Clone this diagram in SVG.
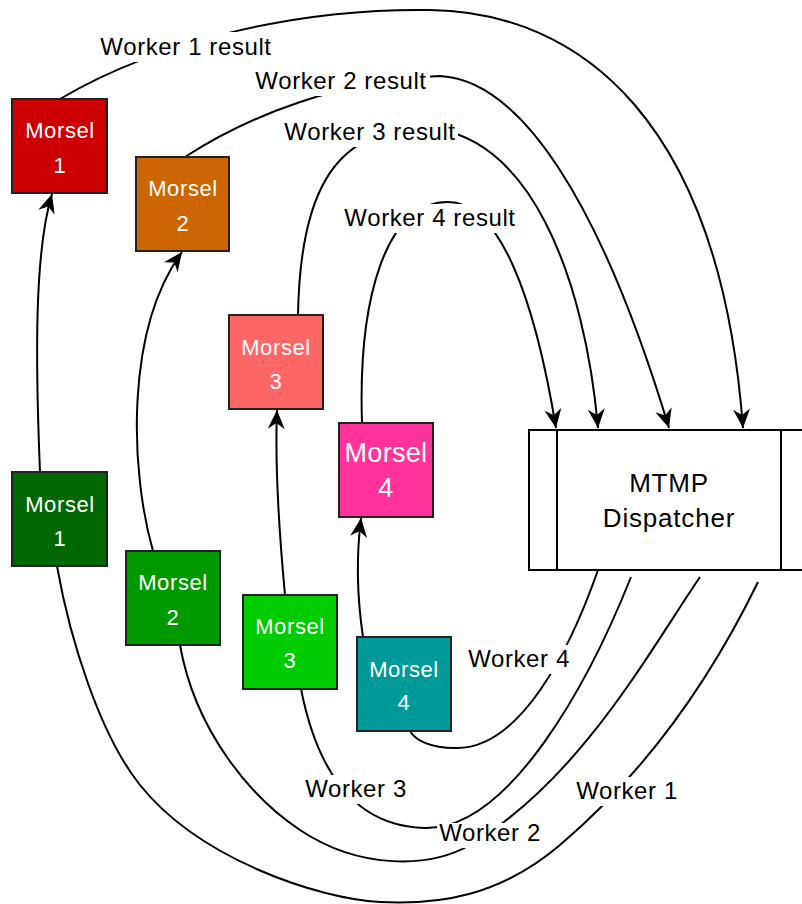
<svg xmlns="http://www.w3.org/2000/svg" width="802" height="904" viewBox="0 0 802 904">
  <style>
    .edge { fill: none; stroke: #000; stroke-width: 2; }
    .arrow { marker-end: url(#head); }
    .lbl-bg { fill: #fff; }
    .lbl { font-family: "Liberation Sans", Arial, Helvetica, sans-serif; font-size: 24px; letter-spacing: 0.6px; fill: #000; text-anchor: middle; }
    .box { stroke: #222; stroke-width: 2; }
    .mtxt { font-family: "Liberation Sans", Arial, Helvetica, sans-serif; font-size: 22px; letter-spacing: 0.6px; fill: #fff; text-anchor: middle; }
    .big { font-size: 27px; letter-spacing: 0.3px; }
    .disp { fill: #fff; stroke: #000; stroke-width: 2; }
    .dtxt { font-family: "Liberation Sans", Arial, Helvetica, sans-serif; font-size: 26px; letter-spacing: 0.8px; fill: #000; text-anchor: middle; }
  </style>
  <defs>
    <!-- notched classic arrowhead, tip at the path end -->
    <marker id="head" markerUnits="userSpaceOnUse" viewBox="0 -10 20 20" markerWidth="20" markerHeight="20" refX="19" refY="0" orient="auto" overflow="visible">
      <path d="M 0 -8.5 L 19 0 L 0 8.5 L 6 0 Z" fill="#000"/>
    </marker>
  </defs>

  <g id="connectors">
    <!-- results: morsel tops to dispatcher -->
    <path class="edge arrow" d="M 60 99 C 160 40, 300 8, 430 10 C 580 12, 720 120, 743 428"/>
    <path class="edge arrow" d="M 185 157 C 250 115, 340 80, 440 76 C 520 80, 600 200, 669 428"/>
    <path class="edge arrow" d="M 298 315 C 300 200, 330 130, 420 128 C 530 128, 585 280, 598 428"/>
    <path class="edge arrow" d="M 362 423 C 358 300, 385 202, 448 202 C 500 202, 535 300, 556 428"/>

    <!-- hand-off: lower morsels to upper morsels -->
    <path class="edge arrow" d="M 40 472 C 35 350, 35 250, 52 194"/>
    <path class="edge arrow" d="M 153 551 C 130 470, 125 330, 182 252"/>
    <path class="edge arrow" d="M 285 595 C 278 520, 275 460, 277 410"/>
    <path class="edge arrow" d="M 363 637 C 356 590, 357 550, 361 518"/>

    <!-- workers: dispatcher bottom to lower morsels -->
    <path class="edge" d="M 598 570 C 570 650, 520 750, 455 748 C 430 748, 415 740, 410 731"/>
    <path class="edge" d="M 631 577 C 590 680, 510 830, 425 828 C 385 827, 325 810, 301 689"/>
    <path class="edge" d="M 700 577 C 650 650, 580 780, 470 845 C 430 868, 360 870, 300 830 C 250 797, 195 730, 180 645"/>
    <path class="edge" d="M 758 582 C 720 660, 660 760, 560 845 C 500 896, 440 905, 380 902 C 320 899, 200 860, 140 785 C 100 735, 70 640, 57 566"/>

    <!-- edge labels -->
    <rect class="lbl-bg" x="98" y="32" width="176" height="30"/>
    <text class="lbl" x="186" y="55">Worker 1 result</text>
    <rect class="lbl-bg" x="253" y="66" width="177" height="30"/>
    <text class="lbl" x="341" y="89">Worker 2 result</text>
    <rect class="lbl-bg" x="282" y="117" width="176" height="30"/>
    <text class="lbl" x="370" y="140">Worker 3 result</text>
    <rect class="lbl-bg" x="342" y="204" width="177" height="29"/>
    <text class="lbl" x="430" y="226">Worker 4 result</text>

    <rect class="lbl-bg" x="466" y="645" width="106" height="29"/>
    <text class="lbl" x="519" y="667">Worker 4</text>
    <rect class="lbl-bg" x="303" y="775" width="107" height="29"/>
    <text class="lbl" x="356" y="797">Worker 3</text>
    <rect class="lbl-bg" x="437" y="823" width="107" height="25"/>
    <text class="lbl" x="490" y="841">Worker 2</text>
    <rect class="lbl-bg" x="574" y="777" width="107" height="29"/>
    <text class="lbl" x="627" y="799">Worker 1</text>
  </g>

  <g id="morsel-1-red">
    <rect class="box" x="12" y="99" width="95" height="94" fill="#CC0000"/>
    <text class="mtxt" x="60" y="138">Morsel</text>
    <text class="mtxt" x="60" y="173">1</text>
  </g>
  <g id="morsel-2-orange">
    <rect class="box" x="136" y="157" width="93" height="94" fill="#CC6600"/>
    <text class="mtxt" x="183" y="196">Morsel</text>
    <text class="mtxt" x="183" y="231">2</text>
  </g>
  <g id="morsel-3-salmon">
    <rect class="box" x="229" y="315" width="94" height="94" fill="#FF6666"/>
    <text class="mtxt" x="276" y="355">Morsel</text>
    <text class="mtxt" x="276" y="389">3</text>
  </g>
  <g id="morsel-4-pink">
    <rect class="box" x="339" y="423" width="94" height="94" fill="#FF3399"/>
    <text class="mtxt big" x="386" y="462">Morsel</text>
    <text class="mtxt big" x="386" y="497">4</text>
  </g>

  <g id="morsel-1-green">
    <rect class="box" x="12" y="472" width="95" height="94" fill="#006600"/>
    <text class="mtxt" x="60" y="512">Morsel</text>
    <text class="mtxt" x="60" y="546">1</text>
  </g>
  <g id="morsel-2-green">
    <rect class="box" x="126" y="551" width="94" height="94" fill="#009900"/>
    <text class="mtxt" x="173" y="590">Morsel</text>
    <text class="mtxt" x="173" y="625">2</text>
  </g>
  <g id="morsel-3-green">
    <rect class="box" x="243" y="595" width="94" height="94" fill="#00CC00"/>
    <text class="mtxt" x="290" y="634">Morsel</text>
    <text class="mtxt" x="290" y="668">3</text>
  </g>
  <g id="morsel-4-teal">
    <rect class="box" x="357" y="637" width="94" height="94" fill="#009999"/>
    <text class="mtxt" x="404" y="677">Morsel</text>
    <text class="mtxt" x="404" y="710">4</text>
  </g>

  <g id="dispatcher">
    <rect class="disp" x="529" y="430" width="280" height="140"/>
    <line x1="557" y1="430" x2="557" y2="570" stroke="#000" stroke-width="2"/>
    <line x1="781" y1="430" x2="781" y2="570" stroke="#000" stroke-width="2"/>
    <text class="dtxt" x="669" y="492">MTMP</text>
    <text class="dtxt" x="669" y="527">Dispatcher</text>
  </g>
</svg>
